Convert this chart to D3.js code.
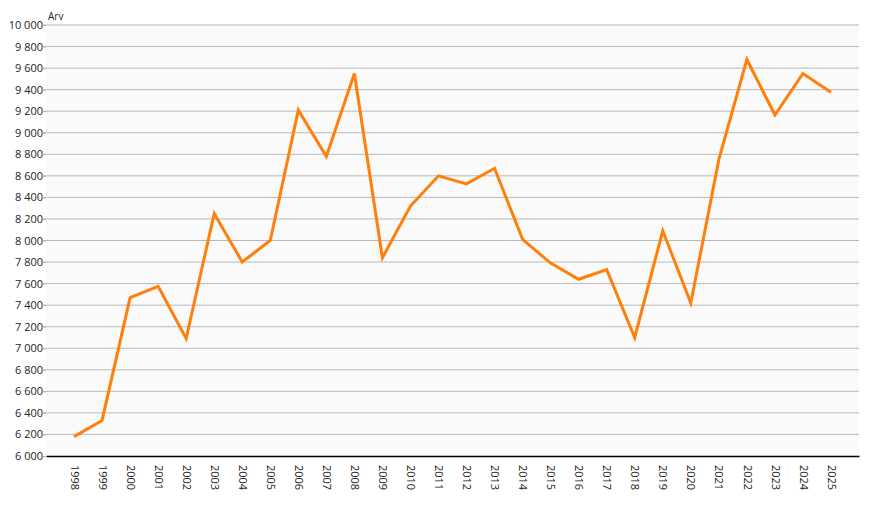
<!DOCTYPE html>
<html>
<head>
<meta charset="utf-8">
<script src="https://cdn.jsdelivr.net/npm/d3@7"></script>
<style>
  body { margin: 0; background: #fff; }
  .tick text { font-family: "Open Sans", "DejaVu Sans", sans-serif; font-size: 11px; fill: #222; }
</style>
</head>
<body>
<div class="panel"></div>
<script>
// Data

const years = [1998, 1999, 2000, 2001, 2002, 2003, 2004, 2005, 2006, 2007,
    2008, 2009, 2010, 2011, 2012, 2013, 2014, 2015, 2016, 2017,
    2018, 2019, 2020, 2021, 2022, 2023, 2024, 2025];

const values = [6180, 6330, 7470, 7575, 7090, 8250, 7800, 8000, 9210, 8780,
    9550, 7840, 8320, 8600, 8525, 8670, 8010, 7790, 7640, 7730,
    7100, 8090, 7420, 8750, 9680, 9165, 9550, 9375];

const yTicks = d3.range(6000, 10001, 200);

// Render chart

const params = {
    width: 896,
    height: 517,
    margin: { top: 25, right: 37, bottom: 61, left: 46 }
};

const innerW = params.width - params.margin.left - params.margin.right;
const innerH = params.height - params.margin.top - params.margin.bottom;

const svg = d3.select(".panel").append("svg")
    .attr("width", params.width)
    .attr("height", params.height);

const g = svg.append("g")
    .attr("transform", `translate(${params.margin.left},${params.margin.top})`);

const x = d3.scalePoint()
    .domain(years)
    .range([0, innerW])
    .padding(1);

const y = d3.scaleLinear()
    .domain([6000, 10000])
    .range([innerH, 0]);

g.append("rect")
    .attr("width", innerW)
    .attr("height", innerH)
    .attr("fill", "#fafafa");

// grid lines
g.selectAll(".grid")
    .data(yTicks.slice(1))
    .enter().append("line")
    .attr("class", "grid")
    .attr("x1", -3)
    .attr("x2", innerW)
    .attr("y1", d => y(d))
    .attr("y2", d => y(d))
    .attr("stroke", "#b8b8b8")
    .attr("stroke-width", 1);

const fmt = d => d3.format(",")(d).replace(",", "\u2009").replace("\u2009", " ");

const yAxis = g.append("g")
    .call(d3.axisLeft(y).tickValues(yTicks).tickSize(3).tickFormat(fmt));
yAxis.select(".domain").remove();
yAxis.selectAll(".tick line").attr("stroke", "#b8b8b8");
yAxis.selectAll(".tick text").attr("x", -3);

const xAxis = g.append("g")
    .attr("transform", `translate(0,${innerH})`)
    .call(d3.axisBottom(x).tickSize(0).tickSizeOuter(0));
xAxis.select(".domain")
    .attr("stroke", "#000")
    .attr("stroke-width", 1.5);
xAxis.selectAll(".tick text")
    .attr("transform", "rotate(90)")
    .attr("text-anchor", "start")
    .attr("x", 9)
    .attr("y", 0)
    .attr("dy", "0.35em");

svg.append("text")
    .attr("x", params.margin.left + 2)
    .attr("y", 20)
    .attr("font-family", "'Open Sans', 'DejaVu Sans', sans-serif")
    .attr("font-size", 10)
    .attr("fill", "#222")
    .text("Arv");

const line = d3.line()
    .x((d, i) => x(years[i]))
    .y(d => y(d));

g.append("path")
    .datum(values)
    .attr("fill", "none")
    .attr("stroke", "#ff7f0a")
    .attr("stroke-width", 3)
    .attr("stroke-linejoin", "miter")
    .attr("d", line);
</script>
</body>
</html>
